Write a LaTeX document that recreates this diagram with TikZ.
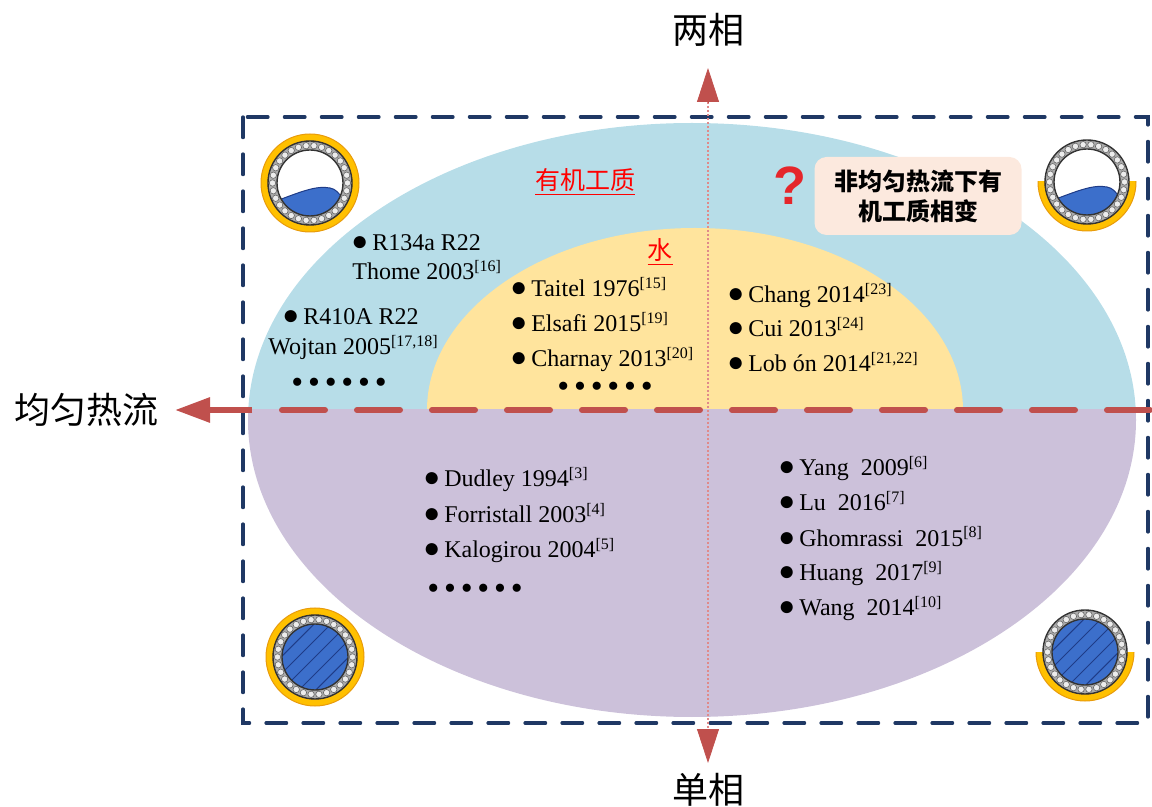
\documentclass[tikz,border=0pt]{standalone}
\usepackage{fontspec}
\setmainfont{Liberation Serif}
\newfontfamily\cjk{Noto Sans CJK SC}
\newfontfamily\qfont{Liberation Sans}
\usetikzlibrary{arrows.meta}

\definecolor{organic}{HTML}{B7DDE8}
\definecolor{water}{HTML}{FFE49D}
\definecolor{single}{HTML}{CCC1DA}
\definecolor{axisred}{HTML}{C0504D}
\definecolor{axispink}{HTML}{E08A8A}
\definecolor{framenavy}{HTML}{1F3864}
\definecolor{notepeach}{HTML}{FCE9DE}
\definecolor{labelred}{HTML}{FF0000}
\definecolor{qred}{HTML}{E5262B}
\definecolor{ringyellow}{HTML}{FFC000}
\definecolor{ringedge}{HTML}{E89B0C}
\definecolor{liquid}{HTML}{3C6FCB}
\definecolor{liquidedge}{HTML}{1F3C88}

\newcommand{\refn}[1]{\textsuperscript{[#1]}}
\newcommand{\bul}{{\fontsize{14}{14}\selectfont ●}\hspace{2pt}}
\newcommand{\dsep}{\hspace{2.4pt}}
\newcommand{\dotrow}{\textbullet\dsep\textbullet\dsep\textbullet\dsep\textbullet\dsep\textbullet\dsep\textbullet}

% tube cross sections
\tikzset{
  ring full/.pic={
    \filldraw[fill=ringyellow,draw=ringedge,line width=0.5pt,even odd rule]
      (0,0) circle (24.5pt) (0,0) circle (21pt);},
  ring half/.pic={
    \begin{scope}
      \clip (-26pt,0pt) rectangle (26pt,-26pt);
      \filldraw[fill=ringyellow,draw=ringedge,line width=0.5pt,even odd rule]
        (0,0) circle (24.5pt) (0,0) circle (21pt);
    \end{scope}},
  bead ring/.pic={
    \filldraw[fill=gray!65,draw=black!80,line width=0.7pt,even odd rule]
      (0,0) circle (21pt) (0,0) circle (16.5pt);
    \foreach \a in {0,12,...,348}
      \filldraw[fill=gray!15,draw=black!60,line width=0.3pt] (\a:18.75pt) circle (1.6pt);},
  tube gas/.pic={
    \fill[white] (0,0) circle (16.5pt);
    \begin{scope}
      \clip (0,0) circle (16.5pt);
      \filldraw[fill=liquid,draw=liquidedge,line width=0.5pt]
        (-17pt,-9pt) .. controls (-6pt,-5pt) and (3pt,-1pt) .. (10pt,-2.5pt)
        .. controls (13pt,-3pt) and (14pt,-5pt) .. (16pt,-7pt)
        -- (17pt,-18pt) -- (-17pt,-18pt) -- cycle;
    \end{scope}
    \pic {bead ring};},
  tube liquid/.pic={
    \begin{scope}
      \clip (0,0) circle (16.5pt);
      \fill[liquid] (0,0) circle (16.5pt);
      \begin{scope}[rotate=45]
        \foreach \d in {-12,-6,0,6,12}
          \draw[liquidedge,line width=0.5pt] (-20pt,\d pt) -- (20pt,\d pt);
      \end{scope}
    \end{scope}
    \pic {bead ring};}
}

\begin{document}
\begin{tikzpicture}[x=0.5pt,y=-0.5pt,
    entry/.style={anchor=base west,inner sep=0pt,font=\fontsize{12}{14}\selectfont},
    dots/.style={anchor=base west,inner sep=0pt,font=\fontsize{17}{17}\selectfont},
    axislabel/.style={inner sep=0pt,font=\cjk\fontsize{18}{18}\selectfont},
    fluid/.style={inner sep=0pt,text=labelred,font=\cjk\fontsize{12.5}{13}\selectfont},
    vhead/.style={-{Triangle[length=17pt,width=11pt]},draw=axisred,fill=axisred,line width=0.4pt},
    hhead/.style={-{Triangle[length=17.5pt,width=12pt]},draw=axisred,fill=axisred,line width=3pt}]

  \useasboundingbox (0,0) rectangle (1152,807);

  % regions
  \begin{scope}
    \clip (0,0) rectangle (1152,410);
    \fill[organic] (692,420) ellipse [x radius=222pt, y radius=148.5pt];
    \fill[water] (695,410) ellipse [x radius=134pt, y radius=91pt];
  \end{scope}
  \begin{scope}
    \clip (0,410) rectangle (1152,807);
    \fill[single] (692,420) ellipse [x radius=222pt, y radius=148.5pt];
  \end{scope}

  \draw[framenavy,line width=1.6pt,line cap=round,dash pattern=on 10.3pt off 8.2pt]
    (243,117) rectangle (1148,723);

  % axes
  \coordinate (uptip) at (708,68);
  \coordinate (upbase) at (708,102);
  \coordinate (dntip) at (708,763);
  \coordinate (dnbase) at (708,729);
  \coordinate (lefttip) at (175,410);
  \coordinate (leftend) at (252,410);
  \coordinate (dashstart) at (282,410);
  \coordinate (rightend) at (1152,410);

  \draw[axispink,line width=0.7pt,dash pattern=on 1pt off 1pt] (upbase) -- (dnbase);
  \draw[vhead] (upbase) -- (uptip);
  \draw[vhead] (dnbase) -- (dntip);
  \draw[axisred,line width=3pt,line cap=round,dash pattern=on 21.5pt off 16pt]
    (dashstart) -- (rightend);
  \draw[hhead] (leftend) -- (lefttip);

  \node[axislabel] (twophase) at (708,30) {两相};
  \node[axislabel] (onephase) at (708,790) {单相};
  \node[axislabel] (uniform) at (86,410) {均匀热流};

  % tubes in the corners
  \pic at (310,183) {ring full};
  \pic at (310,183) {tube gas};
  \pic at (1087,182) {ring half};
  \pic at (1087,182) {tube gas};
  \pic at (315,657) {ring full};
  \pic at (315,657) {tube liquid};
  \pic at (1085,652) {ring half};
  \pic at (1085,652) {tube liquid};

  \node[fluid] (organiclabel) at (585,182) {\underline{有机工质}};
  \node[fluid] (waterlabel) at (660,252) {\underline{水}};

  \node[text=qred,inner sep=0pt,font=\qfont\bfseries\fontsize{27}{27}\selectfont] (query) at (790,186) {?};
  \node[fill=notepeach,rounded corners=6pt,minimum width=103.5pt,minimum height=39pt,
        align=center,inner sep=0pt,font=\cjk\bfseries\fontsize{12}{15}\selectfont]
    (gap) at (918,196) {非均匀热流下有\\机工质相变};

  % organic fluids, uniform flux
  \node[entry] (r134) at (351,251) {\bul R134a R22};
  \node[entry] (thome) at (352,280) {Thome 2003\refn{16}};
  \node[entry] (r410) at (282,325) {\bul R410A R22};
  \node[entry] (wojtan) at (268,355) {Wojtan 2005\refn{17,18}};
  \node[dots] (moreorg) at (291,394) {\dotrow};

  % water, uniform flux
  \node[entry] (taitel) at (510,297) {\bul Taitel 1976\refn{15}};
  \node[entry] (elsafi) at (510,332) {\bul Elsafi 2015\refn{19}};
  \node[entry] (charnay) at (510,367) {\bul Charnay 2013\refn{20}};
  \node[dots] (morewater) at (557,398) {\dotrow};

  % water, non-uniform flux
  \node[entry] (chang) at (727,303) {\bul Chang 2014\refn{23}};
  \node[entry] (cui) at (727,337) {\bul Cui 2013\refn{24}};
  \node[entry] (lobon) at (727,372) {\bul Lob ón 2014\refn{21,22}};

  % single phase
  \node[entry] (dudley) at (423,487) {\bul Dudley 1994\refn{3}};
  \node[entry] (forristall) at (423,523) {\bul Forristall 2003\refn{4}};
  \node[entry] (kalogirou) at (423,558) {\bul Kalogirou 2004\refn{5}};
  \node[dots] (moresingle) at (427,600) {\dotrow};

  \node[entry] (yang) at (778,476) {\bul Yang~ 2009\refn{6}};
  \node[entry] (lu) at (778,511) {\bul Lu~ 2016\refn{7}};
  \node[entry] (ghomrassi) at (778,546) {\bul Ghomrassi~ 2015\refn{8}};
  \node[entry] (huang) at (778,581) {\bul Huang~ 2017\refn{9}};
  \node[entry] (wang) at (778,616) {\bul Wang~ 2014\refn{10}};

\end{tikzpicture}
\end{document}
